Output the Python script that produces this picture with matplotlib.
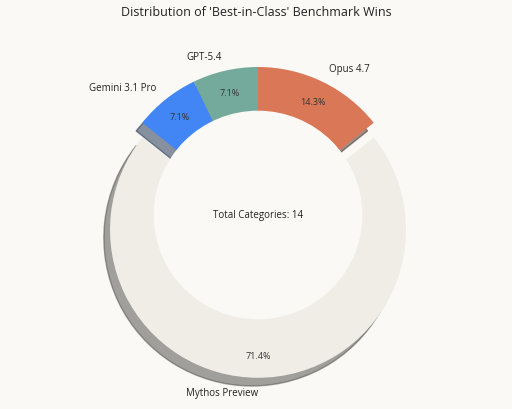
import matplotlib.pyplot as plt

# benchmark wins per model
labels = ['Opus 4.7', 'GPT-5.4', 'Gemini 3.1 Pro', 'Mythos Preview']
wins = [2, 1, 1, 10]
colors = ['#D97757', '#74AA9C', '#4285F4', '#F0EDE6']
explode = [0, 0, 0, 0.1]

plt.rcParams['font.family'] = ['Open Sans', 'DejaVu Sans']
bg = '#FAF9F5'

fig = plt.figure(figsize=(5.12, 4.1), dpi=100, facecolor=bg)
ax = fig.add_axes([0.1426, 0.022, 0.7227, 0.9024])
ax.set_facecolor(bg)

wedges, texts, autotexts = ax.pie(
    wins, labels=labels, colors=colors, explode=explode,
    startangle=90 - 360 * wins[0] / sum(wins), counterclock=True,
    autopct='%1.1f%%', pctdistance=0.85, labeldistance=1.1,
    shadow={'ox': -0.03, 'oy': -0.04},
    textprops={'fontsize': 7, 'color': '#222222'})

for t in autotexts:
    t.set_fontsize(6.5)
    t.set_color('#333333')

# bottom label sits just left of centre
texts[3].set_ha('right')

# donut hole
hole = plt.Circle((0, 0), 0.7, color=bg, zorder=2)
ax.add_patch(hole)

ax.text(0, 0, f'Total Categories: {sum(wins)}', ha='center', va='center',
        fontsize=7, color='#222222')

fig.suptitle("Distribution of 'Best-in-Class' Benchmark Wins", y=0.985,
             fontsize=9, color='#222222')

fig.savefig('out.png', dpi=100, facecolor=bg)
